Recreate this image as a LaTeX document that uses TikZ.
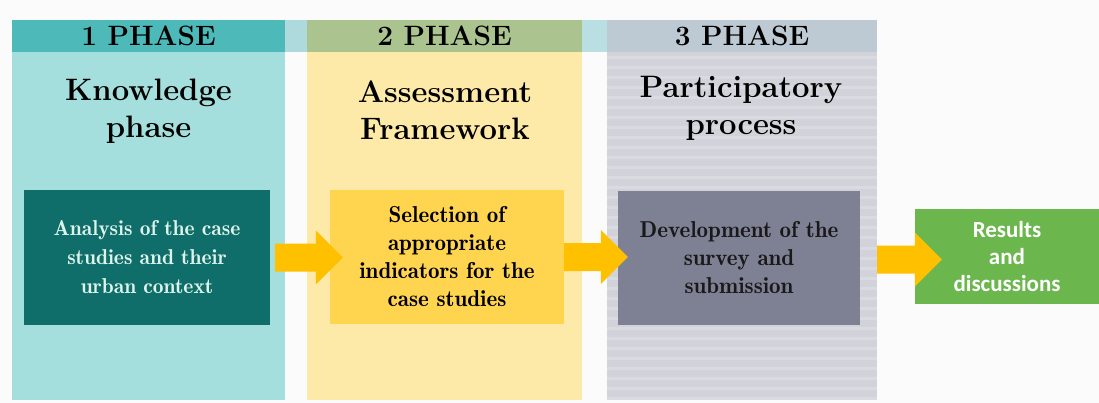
\documentclass[tikz,border=0pt]{standalone}
\usepackage{fontspec}
\newfontfamily\calib{Carlito}
\newfontfamily\demi{lmromandemi10-regular.otf}
\usetikzlibrary{calc}
\definecolor{bgc}{HTML}{FBFBFB}
\definecolor{c1head}{HTML}{4DB9B8}
\definecolor{c1body}{HTML}{A4DEDD}
\definecolor{c2head}{HTML}{ABC38F}
\definecolor{c2body}{HTML}{FEEAA8}
\definecolor{c3head}{HTML}{BDCAD3}
\definecolor{c3body}{HTML}{D2D2DA}
\definecolor{c3stripe}{HTML}{DADAE1}
\definecolor{gapc}{HTML}{AED9DD}
\definecolor{b1c}{HTML}{0F6E69}
\definecolor{b1t}{HTML}{DDF3EC}
\definecolor{b2c}{HTML}{FFD54F}
\definecolor{b3c}{HTML}{7E8094}
\definecolor{gc}{HTML}{6BB74E}
\definecolor{arrowc}{HTML}{FFC000}
\newcommand\blockarrow[2]{%
  \fill[arrowc] let \p1=(#1), \p2=(#2) in
    (\x1,{\y1+14pt}) -- ({\x2-27pt},{\y1+14pt}) -- ({\x2-27pt},{\y1+27pt})
    -- (\x2,\y1) -- ({\x2-27pt},{\y1-27pt}) -- ({\x2-27pt},{\y1-14pt})
    -- (\x1,{\y1-14pt}) -- cycle;}
\begin{document}
\begin{tikzpicture}[x=1pt,y=-1pt,
  area/.style={rectangle, inner sep=0pt, draw=none},
  headtxt/.style={font=\fontsize{28}{30}\selectfont\bfseries, text=black},
  titletxt/.style={font=\fontsize{31}{37}\selectfont\bfseries, align=center, text=black},
  boxtxt/.style={area, align=center, font=\demi\fontsize{23}{28}\selectfont},
]
\useasboundingbox[fill=bgc] (0,0) rectangle (1099,403);
% columns
\node[area, fill=c1body, minimum width=273pt, minimum height=348pt] (col1) at (148.5,226) {};
\node[area, fill=c2body, minimum width=275pt, minimum height=348pt] (col2) at (444.5,226) {};
\node[area, fill=c3body, minimum width=270pt, minimum height=348pt] (col3) at (742,226) {};
\foreach \yy in {58,68,...,398}
  \draw[c3stripe, line width=3pt] (col3.west |- 0,\yy) -- (col3.east |- 0,\yy);
% headers
\node[area, fill=c1head, minimum width=273pt, minimum height=32pt, headtxt] (h1) at (148.5,36) {1 PHASE};
\node[area, fill=c2head, minimum width=275pt, minimum height=32pt, headtxt] (h2) at (444.5,36) {2 PHASE};
\node[area, fill=c3head, minimum width=270pt, minimum height=32pt, headtxt] (h3) at (742,36) {3 PHASE};
\fill[gapc] (h1.north east) rectangle (h2.south west);
\fill[gapc!85!white] (h2.north east) rectangle (h3.south west);
% titles
\node[titletxt] (t1) at (148.5,111) {Knowledge\\phase};
\node[titletxt] (t2) at (445,110) {Assessment\\Framework};
\node[titletxt] (t3) at (741,108) {Participatory\\process};
% boxes
\node[boxtxt, fill=b1c, text=b1t, minimum width=246pt, minimum height=135pt, font=\demi\fontsize{21.5}{29}\selectfont] (b1) at (147,257.5) {Analysis of the case\\studies and their\\urban context};
\node[boxtxt, fill=b2c, text=black, minimum width=234pt, minimum height=134pt] (b2) at (447,257) {Selection of\\appropriate\\indicators for the\\case studies};
\node[boxtxt, fill=b3c, text=black!90, minimum width=242pt, minimum height=134pt] (b3) at (739,258) {Development of the\\survey and\\submission};
\node[boxtxt, fill=gc, text=white, minimum width=184pt, minimum height=95pt, font=\calib\bfseries\fontsize{23}{27}\selectfont] (g) at (1007,256.5) {Results\\and\\discussions};
% arrows
\blockarrow{[xshift=5pt]b1.east}{[xshift=13pt]b2.west}
\blockarrow{b2.east}{[xshift=10pt]b3.west}
\blockarrow{[yshift=-3pt]col3.east |- g.west}{[xshift=27pt]g.west}
\end{tikzpicture}
\end{document}
